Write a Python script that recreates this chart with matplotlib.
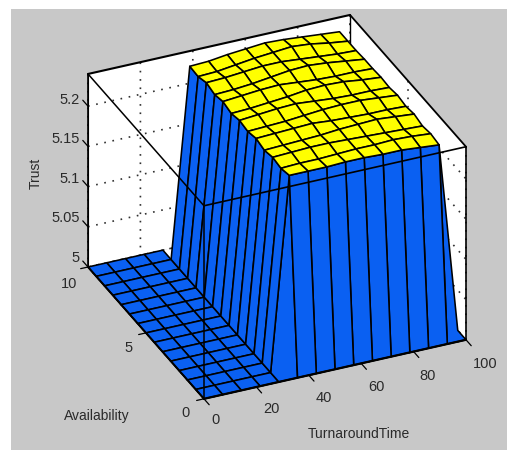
import numpy as np
import matplotlib
matplotlib.use("Agg")
import matplotlib.pyplot as plt
from matplotlib.patches import Rectangle
from mpl_toolkits.mplot3d import proj3d
from mpl_toolkits.mplot3d.art3d import Poly3DCollection

plt.rcParams['font.family'] = ['Liberation Sans', 'DejaVu Sans']

# ---------- data ----------
turnaround = [0, 7.14, 14.29, 21.43, 28.57, 35.71, 42.86, 50, 57.14, 64.29, 71.43, 78.57, 85.71, 92.86, 100]
availability = [0, 0.71, 1.43, 2.14, 2.86, 3.57, 4.29, 5, 5.71, 6.43, 7.14, 7.86, 8.57, 9.29, 10]
# plateau values: rows = Availability 0.71..9.29, columns = TurnaroundTime 35.71..92.86
plateau = [
    [5.240, 5.240, 5.240, 5.241, 5.241, 5.240, 5.240, 5.238, 5.236],
    [5.237, 5.238, 5.238, 5.239, 5.240, 5.240, 5.241, 5.240, 5.238],
    [5.239, 5.240, 5.241, 5.241, 5.240, 5.239, 5.238, 5.237, 5.236],
    [5.236, 5.237, 5.238, 5.239, 5.241, 5.242, 5.243, 5.241, 5.239],
    [5.239, 5.240, 5.241, 5.242, 5.240, 5.239, 5.238, 5.238, 5.237],
    [5.236, 5.237, 5.238, 5.240, 5.242, 5.243, 5.243, 5.241, 5.239],
    [5.238, 5.240, 5.242, 5.243, 5.241, 5.239, 5.238, 5.238, 5.237],
    [5.235, 5.236, 5.238, 5.240, 5.243, 5.244, 5.243, 5.240, 5.238],
    [5.238, 5.240, 5.242, 5.243, 5.241, 5.239, 5.238, 5.238, 5.237],
    [5.235, 5.236, 5.238, 5.241, 5.244, 5.245, 5.243, 5.240, 5.237],
    [5.238, 5.239, 5.241, 5.243, 5.243, 5.241, 5.239, 5.237, 5.236],
    [5.234, 5.235, 5.238, 5.241, 5.243, 5.245, 5.243, 5.239, 5.236],
    [5.235, 5.236, 5.239, 5.241, 5.243, 5.242, 5.240, 5.238, 5.236],
]
z_floor = 5.0
z_top = 5.24
x_ticks = [0, 20, 40, 60, 80, 100]
y_ticks = [0, 5, 10]
z_ticks = [5, 5.05, 5.1, 5.15, 5.2]
z_labels = ['5', '5.05', '5.1', '5.15', '5.2']

BG = '#c8c8c8'
BLUE = '#0a60f2'
YELLOW = '#ffff00'

fig = plt.figure(figsize=(5.07, 4.51), dpi=100, facecolor='white')
W, H = 507, 451
fig.patches.append(Rectangle((11 / W, 1 / H), 1, 1 - 10 / H, transform=fig.transFigure, fc=BG, ec='none', zorder=-10))

ax = fig.add_axes([0.05, 0.05, 0.9, 0.9], projection='3d', computed_zorder=False)
ax.set_proj_type('ortho')
ax.view_init(elev=30.4, azim=-114)
ax.set_facecolor('none')
ax.set_xlim(0, 100, view_margin=0)
ax.set_ylim(0, 10, view_margin=0)
ax.set_zlim(z_floor, z_top, view_margin=0)
aspect = np.array([286.7, 285, 223.7])
ax.set_box_aspect(aspect, zoom=1.0)

X, Y = np.meshgrid(turnaround, availability)
Z = np.full(X.shape, z_floor)
Z[1:14, 5:14] = np.array(plateau)

polys, facecols = [], []
n_a, n_t = Z.shape
for i in range(n_a - 1):
    for j in range(n_t - 1):
        # back-facing ramps behind the plateau can never be seen
        if (j == n_t - 2 and i >= 1) or (i == n_a - 2 and j >= 4):
            continue
        idx = [(i, j), (i, j + 1), (i + 1, j + 1), (i + 1, j)]
        polys.append([(X[k], Y[k], Z[k]) for k in idx])
        high = all(Z[k] > 5.1 for k in idx)
        facecols.append(YELLOW if high else BLUE)
surf = Poly3DCollection(polys, facecolors=facecols, edgecolors='black', linewidths=1.15, zorder=2)
ax.add_collection3d(surf, autolim=False)

# axes furniture
ax.set_xticks(x_ticks)
ax.set_yticks(y_ticks)
ax.set_zticks(z_ticks)
ax.set_xticklabels([])
ax.set_yticklabels([])
ax.set_zticklabels([])
for a in (ax.xaxis, ax.yaxis, ax.zaxis):
    a.set_pane_color((1, 1, 1, 1))
    a.pane.set_edgecolor('none')
    a._axinfo['grid'].update(color='#303030', linewidth=1.2, linestyle=(0, (1, 4)))
    a._axinfo['tick'].update(inward_factor=0.0, outward_factor=0.0)
    a.line.set_color('black')
ax.grid(True)

def edge(xs, ys, zs, lw, zo):
    ax.plot(xs, ys, zs, color='black', lw=lw, zorder=zo, solid_capstyle='round')

edge([0, 100], [10, 10], [z_top, z_top], 1.5, 5)
edge([100, 100], [10, 0], [z_top, z_top], 1.3, 5)
edge([0, 100], [0, 0], [z_top, z_top], 1.2, 5)
edge([0, 0], [10, 0], [z_top, z_top], 1.1, 5)
edge([0, 0], [0, 0], [z_floor, z_top], 1.1, 5)
edge([0, 0], [10, 10], [z_floor, z_top], 1.2, 5)
edge([100, 100], [0, 0], [z_floor, z_top], 1.2, 5)
edge([100, 100], [10, 10], [z_floor, z_top], 1.0, 1)
edge([0, 100], [0, 0], [z_floor, z_floor], 1.6, 5)
edge([0, 0], [0, 10], [z_floor, z_floor], 1.4, 5)

# tick marks, outside the box
for t in x_ticks:
    edge([t, t], [0, -0.45], [z_floor, z_floor], 0.9, 5)
for a_val in y_ticks:
    edge([0, -2.8], [a_val, a_val], [z_floor, z_floor], 0.9, 5)
for zt in z_ticks:
    edge([0, 0], [10, 10.45], [zt, zt], 0.9, 5)

# fit the box to the reference's frame
def px(x, y, z):
    u, v, _ = proj3d.proj_transform(x, y, z, ax.get_proj())
    return ax.transData.transform((u, v))

fig.canvas.draw()
p0, p1 = px(0, 10, z_floor), px(100, 0, z_floor)
scale = (466 - 88) / (p1[0] - p0[0])
ax.set_box_aspect(aspect, zoom=scale)
fig.canvas.draw()
p0 = px(0, 10, z_floor)
pos = ax.get_position(original=True)
dx = (88 - p0[0]) / W
dy = ((H - 267) - p0[1]) / H
ax.set_position([pos.x0 + dx, pos.y0 + dy, pos.width, pos.height])

def label(px_x, px_y, s, ha='center', rot=0, size=10.5):
    fig.text(px_x / W, 1 - px_y / H, s, ha=ha, va='center', rotation=rot, fontsize=size, color='#2a2a2a')

for s, y in zip(z_labels, [258, 218, 179, 139, 100]):
    label(80, y, s, ha='right')
for s, (x, y) in zip(y_ticks, [(186, 413), (129, 348), (69, 284)]):
    label(x, y, str(s))
for s, (x, y) in zip(x_ticks, [(215, 420), (271, 409), (324, 398), (376, 387), (428, 376), (485, 364)]):
    label(x, y, str(s))
label(97, 416, 'Availability', size=10)
label(359, 434, 'TurnaroundTime', size=10)
label(36, 173, 'Trust', rot=90, size=10)

fig.savefig('out.png', dpi=100, facecolor='white')
